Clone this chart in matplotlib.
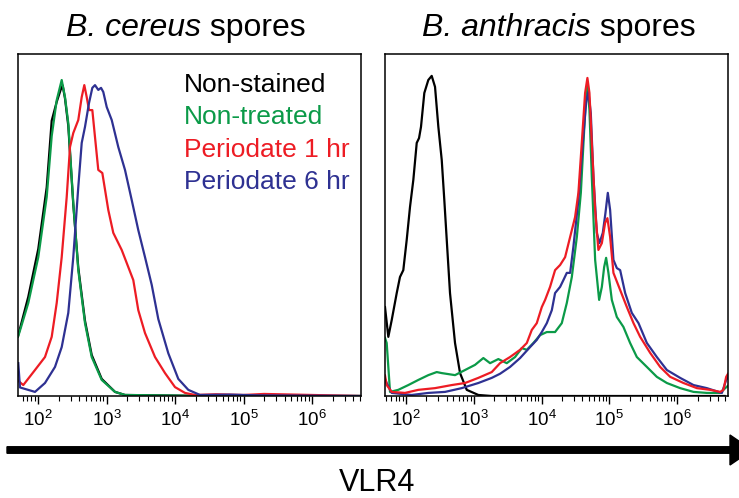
import matplotlib
matplotlib.use("Agg")
import matplotlib.pyplot as plt
import numpy as np
from matplotlib.patches import FancyArrow
from matplotlib.ticker import FixedLocator, LogLocator, NullFormatter

plt.rcParams['font.family'] = ['Liberation Sans', 'DejaVu Sans']
plt.rcParams['mathtext.fontset'] = 'custom'
plt.rcParams['mathtext.rm'] = 'Liberation Sans'
plt.rcParams['mathtext.it'] = 'Liberation Sans:italic'

# === DATA (x = log10 VLR4 intensity, y = % of max count) ===
# B. cereus spores
cer_ns_x = [1.708, 1.858, 2.004, 2.127, 2.2, 2.273, 2.33, 2.36, 2.394, 2.442, 2.515, 2.588, 2.686, 2.784, 2.93, 3.124, 3.27, 4.5, 6.7]
cer_ns_y = [17.5, 29.0, 43.0, 61.0, 80.5, 86.0, 89.5, 90.8, 87.0, 79.0, 56.0, 37.5, 22.0, 12.0, 5.0, 1.2, 0.3, 0.0, 0.0]
cer_nt_x = [1.708, 1.75, 1.858, 2.004, 2.127, 2.2, 2.273, 2.346, 2.394, 2.442, 2.515, 2.588, 2.686, 2.784, 2.93, 3.124, 3.27, 4.5, 6.7]
cer_nt_y = [17.3, 20.0, 27.2, 40.6, 58.2, 76.0, 86.5, 92.4, 87.4, 79.8, 56.4, 36.8, 21.3, 11.4, 4.7, 1.2, 0.3, 0.0, 0.0]
cer_p1_x = [1.708, 1.785, 1.956, 2.102, 2.2, 2.273, 2.346, 2.419, 2.467, 2.515, 2.588, 2.638, 2.676, 2.711, 2.745,
            2.793, 2.832, 2.88, 2.939, 3.026, 3.099, 3.222, 3.318, 3.391, 3.464, 3.562, 3.708, 3.854, 4.0, 4.146,
            4.292, 4.6, 5.0, 5.3, 6.7]
cer_p1_y = [4.5, 3.2, 7.6, 11.4, 17.3, 27.2, 40.6, 58.2, 72.8, 76.9, 80.7, 87.4, 90.9, 87.4, 83.6,
            83.6, 75.7, 66.1, 65.2, 54.4, 47.7, 42.7, 37.7, 33.9, 25.1, 18.4, 11.4, 6.7, 2.6, 0.9,
            0.3, 0.5, 0.3, 0.6, 0.0]
cer_p6_x = [1.712, 1.737, 1.956, 2.102, 2.248, 2.346, 2.442, 2.515, 2.588, 2.638, 2.686, 2.745, 2.793, 2.832,
            2.88, 2.92, 2.953, 3.003, 3.076, 3.172, 3.27, 3.368, 3.464, 3.562, 3.66, 3.756, 3.902, 4.048,
            4.194, 4.365, 4.8, 5.2, 6.7]
cer_p6_y = [9.6, 2.5, 1.2, 3.8, 8.5, 14.3, 24.3, 40.6, 61.1, 74.0, 78.7, 85.7, 90.1, 90.9,
            89.5, 90.1, 88.9, 84.5, 80.7, 72.8, 66.1, 57.3, 48.5, 40.6, 32.5, 22.5, 12.5, 5.0,
            1.8, 0.3, 0.4, 0.2, 0.0]

# B. anthracis spores
ant_ns_x = [1.69, 1.739, 1.789, 1.863, 1.911, 1.96, 2.01, 2.059, 2.108, 2.158, 2.192, 2.221, 2.27, 2.329, 2.379,
            2.428, 2.477, 2.527, 2.565, 2.601, 2.649, 2.723, 2.797, 2.896, 3.067, 3.265, 6.7]
ant_ns_y = [26.0, 17.3, 22.2, 30.1, 34.8, 36.8, 45.6, 55.3, 63.2, 74.0, 75.4, 78.7, 88.6, 92.4, 93.6,
            90.4, 78.7, 69.0, 57.3, 45.6, 30.1, 15.5, 6.7, 1.8, 0.3, 0.0, 0.0]
ant_nt_x = [1.69, 1.715, 1.764, 1.886, 2.034, 2.182, 2.329, 2.453, 2.527, 2.723, 2.871, 3.018, 3.141, 3.24,
            3.362, 3.486, 3.609, 3.708, 3.782, 3.879, 3.978, 4.077, 4.199, 4.298, 4.372, 4.446, 4.52,
            4.579, 4.618, 4.657, 4.676, 4.706, 4.741, 4.79, 4.849, 4.889, 4.923, 4.952, 4.986, 5.036,
            5.11, 5.207, 5.306, 5.405, 5.553, 5.7, 5.848, 6.044, 6.241, 6.438, 6.635, 6.709, 6.75]
ant_nt_y = [17.0, 15.5, 1.2, 1.8, 3.2, 4.7, 6.1, 7.0, 6.7, 6.1, 7.6, 9.1, 11.1, 9.6,
            10.8, 9.6, 11.4, 14.0, 13.5, 15.5, 17.8, 18.7, 18.7, 21.3, 27.2, 34.8, 46.5,
            59.4, 74.0, 88.6, 90.9, 83.6, 64.0, 39.8, 28.1, 31.9, 37.7, 40.4, 36.0, 28.1,
            23.1, 20.2, 15.5, 11.4, 8.5, 5.6, 3.8, 2.3, 1.2, 0.9, 0.9, 2.3, 3.0]
ant_p1_x = [1.69, 1.715, 1.789, 1.985, 2.182, 2.428, 2.675, 2.871, 3.067, 3.265, 3.387, 3.535, 3.683, 3.782,
            3.855, 3.929, 4.003, 4.052, 4.125, 4.199, 4.273, 4.347, 4.421, 4.494, 4.543, 4.593, 4.642,
            4.676, 4.706, 4.741, 4.79, 4.838, 4.889, 4.937, 4.971, 5.011, 5.06, 5.159, 5.258, 5.356,
            5.454, 5.602, 5.749, 5.897, 6.093, 6.291, 6.487, 6.635, 6.683, 6.723, 6.75]
ant_p1_y = [6.0, 3.2, 1.2, 0.9, 1.8, 2.3, 3.2, 3.8, 5.3, 7.0, 9.6, 11.4, 13.5, 15.5,
            19.3, 21.3, 26.0, 28.1, 31.9, 36.8, 38.3, 40.6, 46.5, 52.3, 59.4, 74.0, 88.6,
            93.0, 88.6, 74.0, 54.4, 42.7, 44.7, 50.6, 52.0, 46.5, 36.0, 31.0, 26.0, 21.3,
            17.3, 12.6, 8.5, 5.6, 3.8, 2.3, 1.8, 1.2, 1.8, 5.6, 6.5]
ant_p6_x = [1.69, 1.715, 1.789, 2.084, 2.329, 2.576, 2.822, 3.067, 3.265, 3.387, 3.535, 3.683, 3.83, 3.929,
            4.003, 4.077, 4.151, 4.199, 4.273, 4.322, 4.372, 4.421, 4.469, 4.543, 4.608, 4.657, 4.691,
            4.726, 4.765, 4.815, 4.853, 4.903, 4.942, 4.977, 5.011, 5.06, 5.11, 5.159, 5.233, 5.331,
            5.43, 5.553, 5.7, 5.848, 6.044, 6.241, 6.438, 6.609, 6.66, 6.723, 6.75]
ant_p6_y = [5.0, 3.8, 0.9, 0.3, 0.9, 1.2, 2.3, 3.8, 5.3, 6.5, 8.5, 11.1, 14.3, 16.4,
            18.7, 21.3, 25.1, 30.1, 31.9, 33.9, 36.0, 36.0, 43.6, 57.3, 74.0, 85.7, 88.9,
            82.7, 64.0, 47.7, 44.7, 47.7, 53.5, 59.4, 54.4, 39.8, 37.4, 36.8, 30.1, 24.3,
            21.3, 15.5, 11.4, 7.6, 5.3, 3.2, 2.3, 1.2, 0.9, 4.7, 5.5]

labels = ["Non-stained", "Non-treated", "Periodate 1 hr", "Periodate 6 hr"]
colors = ["#000000", "#0b9a48", "#ed1c24", "#2e3192"]
tick_exp = [2, 3, 4, 5, 6]

fig = plt.figure(figsize=(7.39, 4.98), dpi=100)
W, H = 739, 498
renderer = fig.canvas.get_renderer()

panels = [
    dict(left=18, xlim=(1.708, 6.715), species="B. cereus", tx=186,
         series=[(cer_ns_x, cer_ns_y), (cer_nt_x, cer_nt_y), (cer_p1_x, cer_p1_y), (cer_p6_x, cer_p6_y)],
         order=[0, 1, 2, 3]),
    dict(left=385, xlim=(1.69, 6.75), species="B. anthracis", tx=559,
         series=[(ant_ns_x, ant_ns_y), (ant_nt_x, ant_nt_y), (ant_p1_x, ant_p1_y), (ant_p6_x, ant_p6_y)],
         order=[0, 1, 3, 2]),
]


def title_two_styles(xc, y, italic, plain, size):
    # italic species name followed by plain word, centred as one line
    t1 = fig.text(0, y, italic, fontsize=size, style='italic', ha='left', va='baseline')
    t2 = fig.text(0, y, " " + plain, fontsize=size, ha='left', va='baseline')
    w1 = t1.get_window_extent(renderer).width
    w2 = t2.get_window_extent(renderer).width
    x0 = xc - (w1 + w2) / 2
    t1.set_x(x0 / W)
    t2.set_x((x0 + w1) / W)


for i, p in enumerate(panels):
    ax = fig.add_axes([p['left'] / W, 102 / H, 343 / W, 342 / H])
    for k in p['order']:
        xs, ys = p['series'][k]
        ax.plot(10 ** np.array(xs), ys, color=colors[k], lw=1.6, solid_joinstyle='round')
    ax.set_xscale('log')
    ax.set_xlim(10 ** p['xlim'][0], 10 ** p['xlim'][1])
    ax.set_ylim(0, 100)
    ax.set_yticks([])
    ax.xaxis.set_major_locator(FixedLocator([10.0 ** e for e in tick_exp]))
    ax.set_xticklabels([rf"$10^{{{e}}}$" for e in tick_exp], fontsize=13.5)
    ax.xaxis.set_minor_locator(LogLocator(base=10, subs=np.arange(2, 10), numticks=20))
    ax.xaxis.set_minor_formatter(NullFormatter())
    ax.tick_params(axis='x', which='major', direction='out', length=6, width=1, pad=4)
    ax.tick_params(axis='x', which='minor', direction='out', length=3.5, width=0.8)
    for s in ax.spines.values():
        s.set_linewidth(1.1)
    title_two_styles(p['tx'], 1 - 36 / H, p['species'], "spores", 23)
    if i == 0:
        for j, lab in enumerate(labels):
            ax.text((184 - 18) / 343, (396 - [92, 124, 157, 189][j]) / 342, lab, color=colors[j],
                    fontsize=19, transform=ax.transAxes, ha='left', va='baseline')

# big axis arrow + label (tip runs past the right edge, as in the figure)
fig.add_artist(FancyArrow(7 / W, 1 - 450 / H, 745 / W, 0, width=6.5 / H, head_width=30 / H,
                          head_length=22 / W, length_includes_head=True, color='black',
                          transform=fig.transFigure))
fig.text(377 / W, 1 - 491 / H, "VLR4", fontsize=22, ha='center', va='baseline')

plt.savefig("out.png", dpi=100)
